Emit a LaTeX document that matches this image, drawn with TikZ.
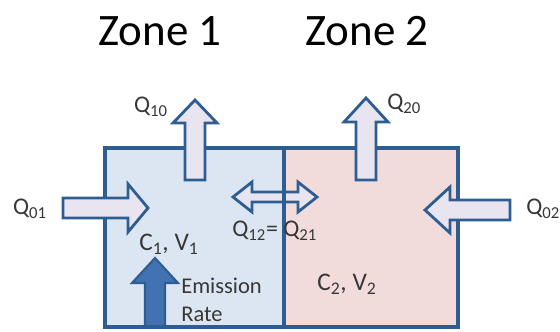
\documentclass[tikz,border=0pt]{standalone}
\usepackage{fontspec}
\setmainfont{Carlito}
\definecolor{edgeblue}{RGB}{46,94,145}
\definecolor{zoneone}{RGB}{220,230,242}
\definecolor{zonetwo}{RGB}{242,220,219}
\definecolor{flowfill}{RGB}{232,228,240}
\definecolor{emitfill}{RGB}{66,114,178}
\definecolor{labelgray}{RGB}{55,55,55}

\begin{document}
\begin{tikzpicture}[x=0.025cm, y=-0.025cm,
    wall/.style={draw=edgeblue, line width=2.2pt},
    flow/.style={draw=edgeblue, fill=flowfill, line width=2pt},
    emit/.style={draw=edgeblue, fill=emitfill, line width=1.5pt},
    lbl/.style={text=labelgray, font=\fontsize{17}{18}\selectfont, inner sep=0pt},
    zone/.style={font=\fontsize{32}{36}\selectfont, inner sep=0pt}]
    \useasboundingbox (0,0) rectangle (560,331);
    % the two zones
    \fill[zoneone] (105,148) rectangle (284,327);
    \fill[zonetwo] (284,148) rectangle (458,327);
    \draw[wall] (105,148) rectangle (458,327);
    \node[zone, anchor=base] (z1) at (160,45) {Zone 1};
    \node[zone, anchor=base] (z2) at (367,45) {Zone 2};
    % flows out
    \draw[flow] (185,180) -- (185,123) -- (173,123) -- (195,100) -- (217,123) -- (205,123) -- (205,180) -- cycle;
    \draw[flow] (356,180) -- (356,122) -- (344,122) -- (366,98) -- (388,122) -- (376,122) -- (376,180) -- cycle;
    % flows in
    \draw[flow] (63,198) -- (128,198) -- (128,184) -- (148,208) -- (128,232) -- (128,218) -- (63,218) -- cycle;
    \draw[flow] (510,200) -- (450,200) -- (450,187) -- (425,210) -- (450,233) -- (450,220) -- (510,220) -- cycle;
    % exchange between zones
    \draw[flow] (233,197) -- (252,182) -- (252,192) -- (298,192) -- (298,182) -- (317,197) -- (298,212) -- (298,202) -- (252,202) -- (252,212) -- cycle;
    \draw[wall] (284,148) -- (284,327);
    % source
    \draw[emit] (145,326) -- (145,283) -- (132,283) -- (155,258) -- (178,283) -- (165,283) -- (165,326) -- cycle;
    % labels
    \node[lbl] (q01) at (30,209) {Q\textsubscript{01}};
    \node[lbl, anchor=west] (q02) at (526,209) {Q\textsubscript{02}};
    \node[lbl] (q10) at (151,107) {Q\textsubscript{10}};
    \node[lbl, anchor=west] (q20) at (387,104) {Q\textsubscript{20}};
    \node[lbl, anchor=west] (q12) at (232,231) {Q\textsubscript{12}= Q\textsubscript{21}};
    \node[lbl, anchor=west, font=\fontsize{18}{19}\selectfont] (cv1) at (139,244) {C\textsubscript{1}, V\textsubscript{1}};
    \node[lbl, anchor=west, font=\fontsize{18}{19}\selectfont] (cv2) at (317,284) {C\textsubscript{2}, V\textsubscript{2}};
    \node[lbl, anchor=west, align=left, font=\fontsize{16}{20}\selectfont] (rate) at (181,300) {Emission\\Rate};
\end{tikzpicture}
\end{document}
